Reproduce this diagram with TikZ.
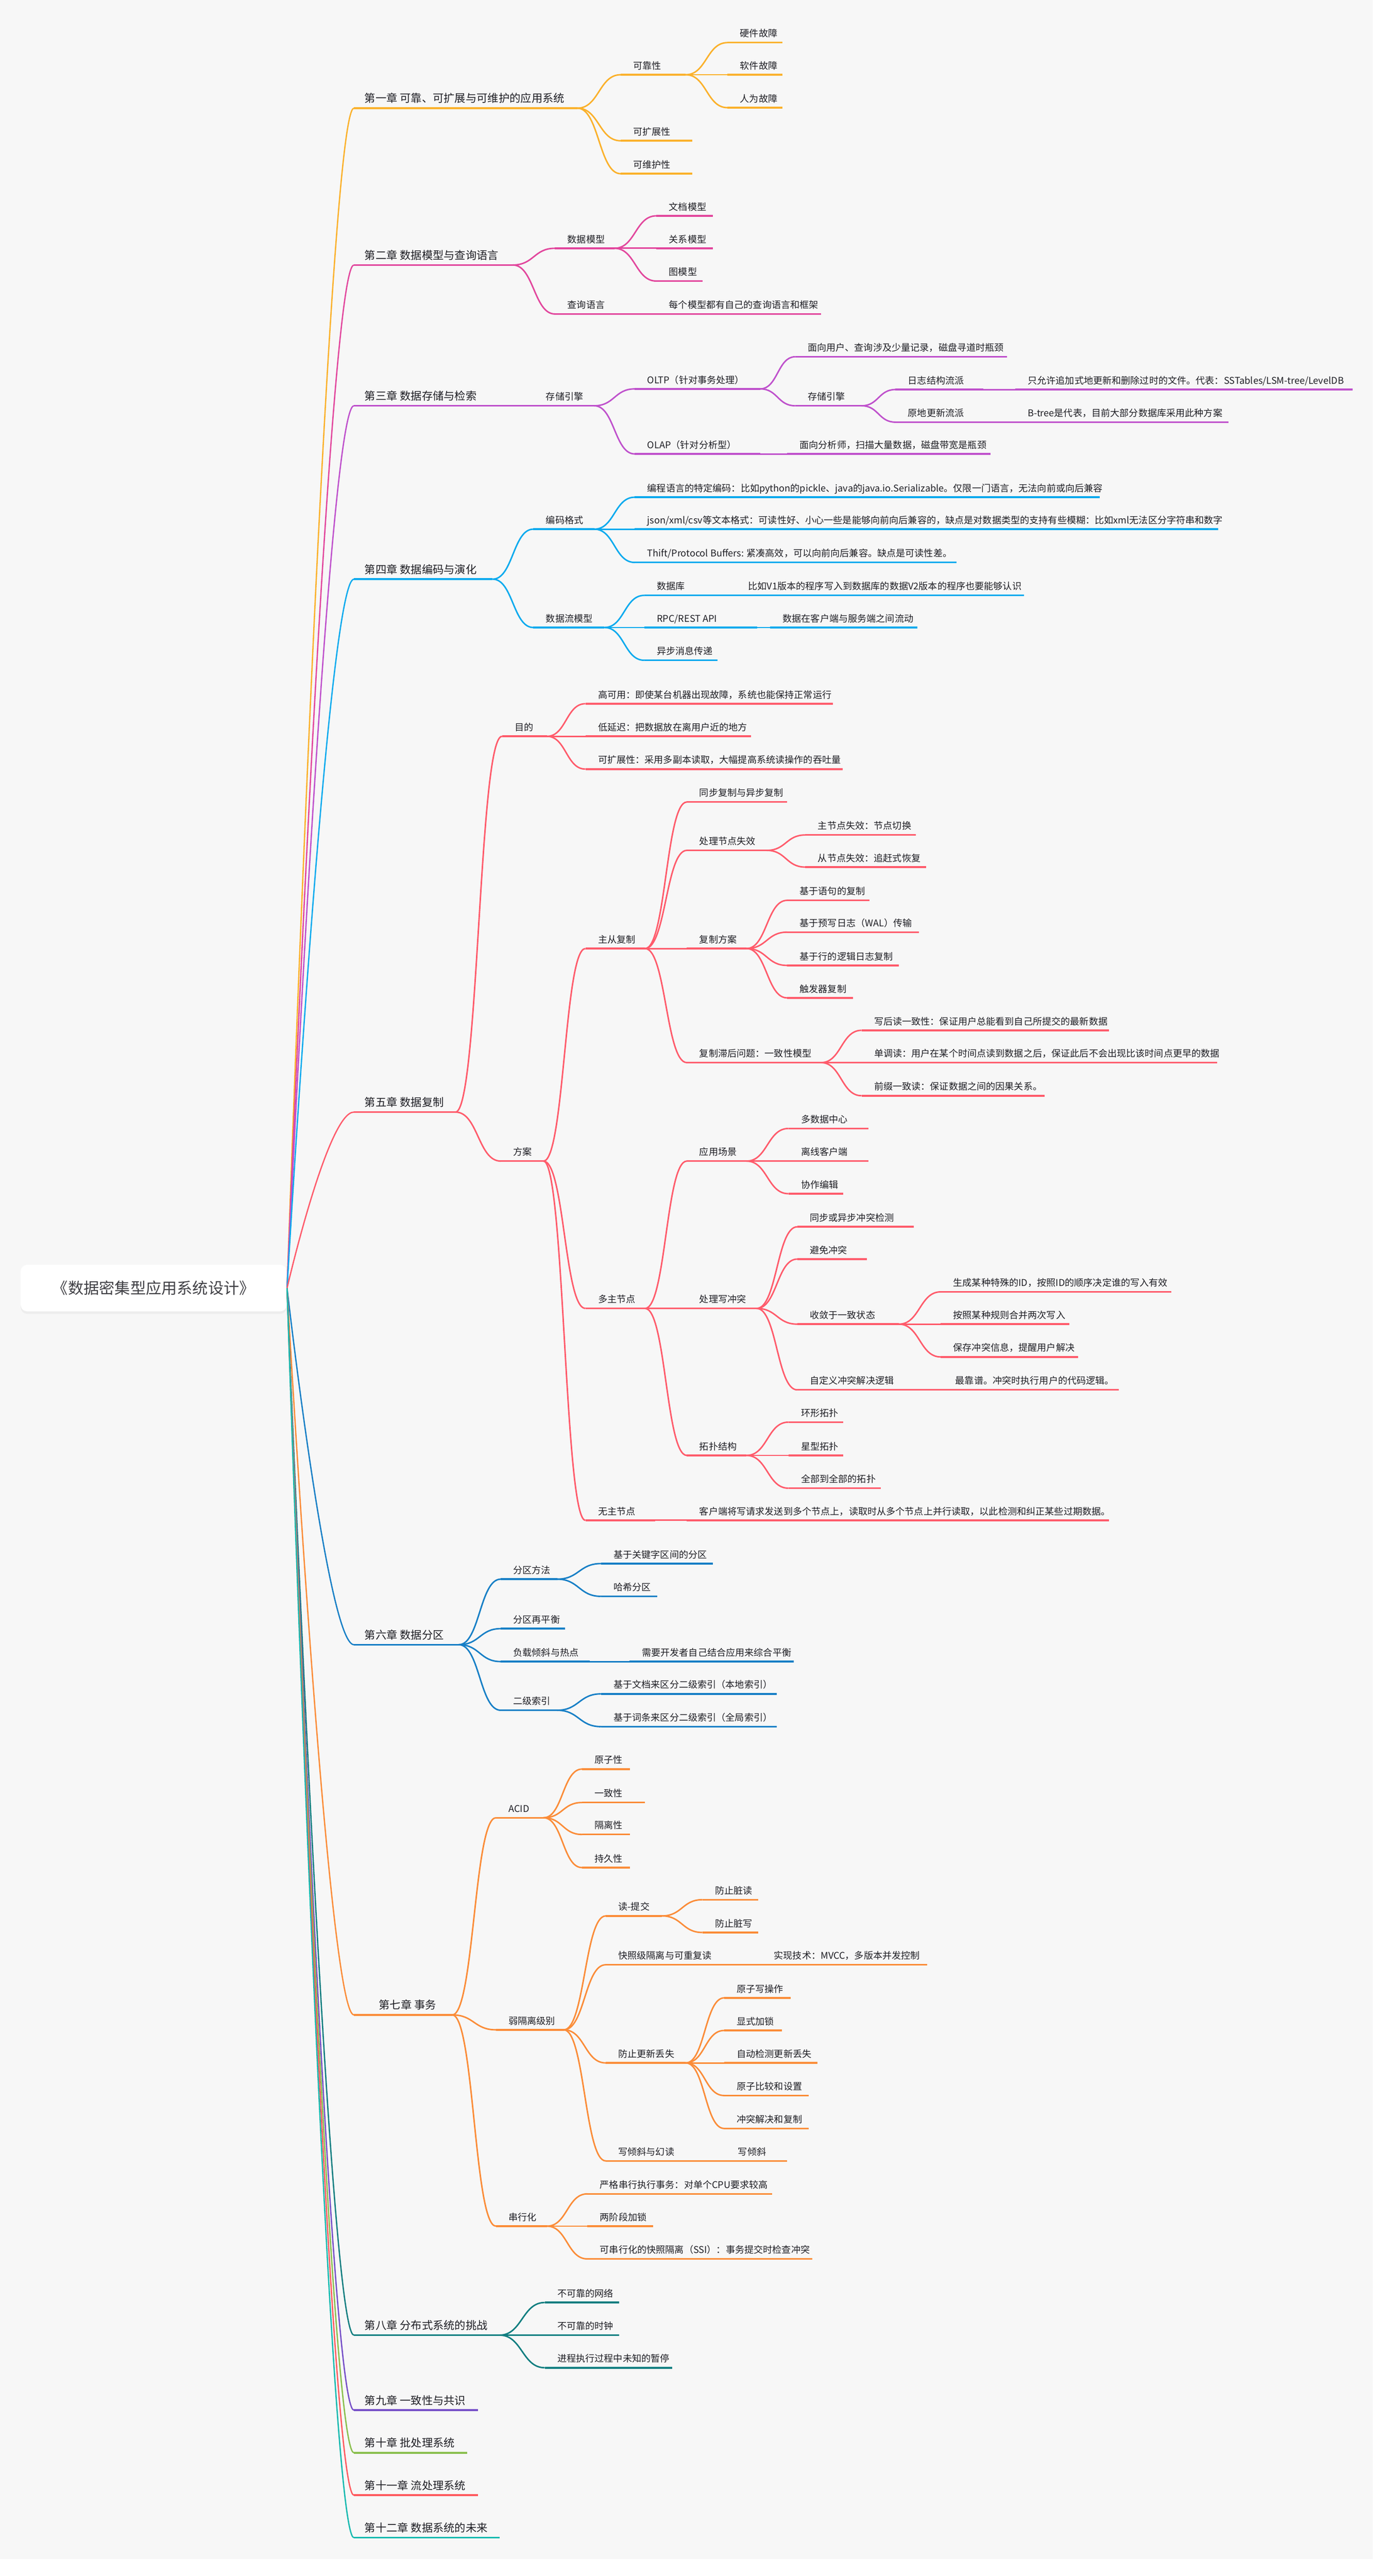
\documentclass[tikz,border=0pt]{standalone}
\usepackage{fontspec}
\setmainfont{Noto Sans CJK SC}
\usetikzlibrary{calc,shadows}

\definecolor{bgc}{HTML}{F7F7F7}
\definecolor{txt}{HTML}{1E1E24}
\definecolor{cA}{HTML}{FBB12B}
\definecolor{cB}{HTML}{E2479D}
\definecolor{cC}{HTML}{BF51CC}
\definecolor{cD}{HTML}{0BAAEE}
\definecolor{cE}{HTML}{FF5B6B}
\definecolor{cF}{HTML}{177FC6}
\definecolor{cG}{HTML}{FB8C38}
\definecolor{cH}{HTML}{127E80}
\definecolor{cI}{HTML}{7650C8}
\definecolor{cJ}{HTML}{8ABF4E}
\definecolor{cK}{HTML}{FF5A5F}
\definecolor{cL}{HTML}{18BAB0}

\tikzset{
  root/.style={fill=white, rounded corners=4pt, minimum width=162.4pt, minimum height=28.4pt,
    inner sep=0pt, font=\fontsize{9.5}{11}\selectfont, text=txt!85!white,
    drop shadow={shadow xshift=0pt, shadow yshift=-1.5pt, opacity=0.08}},
  chap/.style={anchor=south west, inner xsep=6.3pt, inner ysep=2pt, text depth=1.3pt,
    font=\fontsize{6.7}{8}\selectfont, text=txt},
  tp/.style={anchor=south west, inner xsep=7.5pt, inner ysep=2pt, text depth=1.2pt,
    font=\fontsize{5.7}{7}\selectfont, text=txt},
  ul/.style={line width=1.1pt},
  br/.style={line width=0.9pt, to path={let \p1=(\tikztostart), \p2=(\tikztotarget) in
    .. controls ({(\x1+\x2)/2},\y1) and ({(\x1+\x2)/2},\y2) .. (\p2)}},
  rootbr/.style={line width=0.8pt, to path={.. controls (\tikztostart) and ([xshift=-16pt]\tikztotarget) .. (\tikztotarget)}},
}

\begin{document}
\begin{tikzpicture}[x=1pt,y=-1pt]
\fill[white] (0,0) rectangle (843.2,1571.9);
\fill[bgc] (0,0) rectangle (837.8,1561.4);
\useasboundingbox (0,0) rectangle (843.2,1571.9);

\node[root] (root) at (93.8,786) {《数据密集型应用系统设计》};

% chapter 1
\begin{scope}[color=cA]
\node[chap] (ch1) at (216,66.0) {第一章 可靠、可扩展与可维护的应用系统};
\draw[ul] (ch1.south west) -- (352.4,66.0) coordinate (ch1-e);
\draw[rootbr] (root.east) to (ch1.south west);
\foreach \nm/\xs/\xe/\yl/\lb in {
  a1/378.8/418.5/45.6/可靠性,
  a11/444/477.6/26.0/硬件故障,
  a12/444/477.6/45.6/软件故障,
  a13/444/477.6/65.7/人为故障,
  a2/378.8/422.6/85.9/可扩展性,
  a3/378.8/422.6/106.0/可维护性}
{
  \node[tp] (\nm) at (\xs,\yl) {\lb};
  \draw[ul] (\nm.south west) -- (\xe,\yl) coordinate (\nm-e);
}
\foreach \pa/\ki in {ch1/a1, a1/a11, a1/a12, a1/a13, ch1/a2, ch1/a3}
  \draw[br] (\pa-e) to (\ki.south west);
\end{scope}

% chapter 2
\begin{scope}[color=cB]
\node[chap] (ch2) at (216,161.7) {第二章 数据模型与查询语言};
\draw[ul] (ch2.south west) -- (313,161.7) coordinate (ch2-e);
\draw[rootbr] (root.east) to (ch2.south west);
\foreach \nm/\xs/\xe/\yl/\lb in {
  b1/338.7/375/151.5/数据模型,
  b11/400.6/435/131.7/文档模型,
  b12/400.6/435/151.5/关系模型,
  b13/400.6/428.8/171.5/图模型,
  b2/338.7/380/191.6/查询语言,
  b21/400.6/501.1/191.6/每个模型都有自己的查询语言和框架}
{
  \node[tp] (\nm) at (\xs,\yl) {\lb};
  \draw[ul] (\nm.south west) -- (\xe,\yl) coordinate (\nm-e);
}
\foreach \pa/\ki in {ch2/b1, b1/b11, b1/b12, b1/b13, ch2/b2, b2/b21}
  \draw[br] (\pa-e) to (\ki.south west);
\end{scope}

% chapter 3
\begin{scope}[color=cC]
\node[chap] (ch3) at (216,247.6) {第三章 数据存储与检索};
\draw[ul] (ch3.south west) -- (297.9,247.6) coordinate (ch3-e);
\draw[rootbr] (root.east) to (ch3.south west);
\foreach \nm/\xs/\xe/\yl/\lb in {
  c1/325.5/362.7/247.6/存储引擎,
  c11/387.4/464/237.3/OLTP（针对事务处理）,
  c111/485.3/614.7/217.7/面向用户、查询涉及少量记录，磁盘寻道时瓶颈,
  c112/485.3/525.9/247.6/存储引擎,
  c1121/546.5/600/237.7/日志结构流派,
  c11211/619.6/825.4/237.7/{只允许追加式地更新和删除过时的文件。代表：SSTables/LSM-tree/LevelDB},
  c1122/546.5/600/257.6/原地更新流派,
  c11221/619.6/749.8/257.6/B-tree是代表，目前大部分数据库采用此种方案,
  c12/387.4/464/277.0/OLAP（针对分析型）,
  c121/480.4/604.4/277.0/面向分析师，扫描大量数据，磁盘带宽是瓶颈}
{
  \node[tp] (\nm) at (\xs,\yl) {\lb};
  \draw[ul] (\nm.south west) -- (\xe,\yl) coordinate (\nm-e);
}
\foreach \pa/\ki in {ch3/c1, c1/c11, c11/c111, c11/c112, c112/c1121, c1121/c11211,
  c112/c1122, c1122/c11221, c1/c12, c12/c121}
  \draw[br] (\pa-e) to (\ki.south west);
\end{scope}

% chapter 4
\begin{scope}[color=cD]
\node[chap] (ch4) at (216,353.4) {第四章 数据编码与演化};
\draw[ul] (ch4.south west) -- (300.7,353.4) coordinate (ch4-e);
\draw[rootbr] (root.east) to (ch4.south west);
\foreach \nm/\xs/\xe/\yl/\lb in {
  d1/325.5/362.7/322.9/编码格式,
  d11/387.4/671.3/303.4/编程语言的特定编码：比如python的pickle、java的java.io.Serializable。仅限一门语言，无法向前或向后兼容,
  d12/387.4/743.6/322.9/{json/xml/csv等文本格式：可读性好、小心一些是能够向前向后兼容的，缺点是对数据类型的支持有些模糊：比如xml无法区分字符串和数字},
  d13/387.4/583.7/343.2/{Thift/Protocol Buffers: 紧凑高效，可以向前向后兼容。缺点是可读性差。},
  d2/325.5/368.9/382.9/数据流模型,
  d21/393.2/440/363.3/数据库,
  d211/449/625/363.3/比如V1版本的程序写入到数据库的数据V2版本的程序也要能够认识,
  d22/393.2/462/382.9/{RPC/REST API},
  d221/470/559.8/382.9/数据在客户端与服务端之间流动,
  d23/393.2/437.9/402.9/异步消息传递}
{
  \node[tp] (\nm) at (\xs,\yl) {\lb};
  \draw[ul] (\nm.south west) -- (\xe,\yl) coordinate (\nm-e);
}
\foreach \pa/\ki in {ch4/d1, d1/d11, d1/d12, d1/d13, ch4/d2, d2/d21, d21/d211,
  d2/d22, d22/d221, d2/d23}
  \draw[br] (\pa-e) to (\ki.south west);
\end{scope}

% chapter 5
\begin{scope}[color=cE]
\node[chap] (ch5) at (216,678.6) {第五章 数据复制};
\draw[ul] (ch5.south west) -- (278,678.6) coordinate (ch5-e);
\draw[rootbr] (root.east) to (ch5.south west);
\foreach \nm/\xs/\xe/\yl/\lb in {
  e1/306.4/333.8/449.3/目的,
  e11/357.3/508.5/429.4/高可用：即使某台机器出现故障，系统也能保持正常运行,
  e12/357.3/458.5/449.3/低延迟：把数据放在离用户近的地方,
  e13/357.3/514.3/469.3/可扩展性：采用多副本读取，大幅提高系统读操作的吞吐量,
  e2/305.6/331.7/708.5/方案,
  e21/357.3/393.7/578.8/主从复制,
  e211/419.2/480.4/489.4/同步复制与异步复制,
  e212/419.2/468/518.9/处理节点失效,
  e2121/491.5/559/509.5/主节点失效：节点切换,
  e2122/491.5/565.1/529.1/从节点失效：追赶式恢复,
  e213/419.2/455.6/578.8/复制方案,
  e2131/480.4/530.8/549.4/基于语句的复制,
  e2132/480.4/561/568.8/基于预写日志（WAL）传输,
  e2133/480.4/548.6/589.1/基于行的逻辑日志复制,
  e2134/480.4/520.5/608.9/触发器复制,
  e214/419.2/501.1/648.4/复制滞后问题：一致性模型,
  e2141/525.8/676.7/628.7/写后读一致性：保证用户总能看到自己所提交的最新数据,
  e2142/525.8/742.8/648.4/单调读：用户在某个时间点读到数据之后，保证此后不会出现比该时间点更早的数据,
  e2143/525.8/637.4/668.6/前缀一致读：保证数据之间的因果关系。,
  e22/357.3/393.7/798.4/多主节点,
  e221/419.2/455.6/708.5/应用场景,
  e2211/481.2/530/688.6/多数据中心,
  e2212/481.2/530/708.5/离线客户端,
  e2213/481.2/514.7/728.4/协作编辑,
  e222/419.2/461.8/798.4/处理写冲突,
  e2221/486.6/557.7/748.6/同步或异步冲突检测,
  e2222/486.6/529.2/768.3/避免冲突,
  e2223/486.6/548.6/808.0/收敛于一致状态,
  e22231/574.1/715/788.3/生成某种特殊的ID，按照ID的顺序决定谁的写入有效,
  e22232/574.1/652.7/808.0/按照某种规则合并两次写入,
  e22233/574.1/658/828.0/保存冲突信息，提醒用户解决,
  e2224/486.6/560/848.1/自定义冲突解决逻辑,
  e22241/575.4/682.9/848.1/最靠谱。冲突时执行用户的代码逻辑。,
  e223/419.2/455.6/888.1/拓扑结构,
  e2231/481.2/514.7/867.8/环形拓扑,
  e2232/481.2/514.7/888.1/星型拓扑,
  e2233/481.2/537.5/908.1/全部到全部的拓扑,
  e23/357.3/400/927.7/无主节点,
  e231/419.2/676.7/927.7/客户端将写请求发送到多个节点上，读取时从多个节点上并行读取，以此检测和纠正某些过期数据。}
{
  \node[tp] (\nm) at (\xs,\yl) {\lb};
  \draw[ul] (\nm.south west) -- (\xe,\yl) coordinate (\nm-e);
}
\foreach \pa/\ki in {ch5/e1, e1/e11, e1/e12, e1/e13, ch5/e2,
  e2/e21, e21/e211, e21/e212, e212/e2121, e212/e2122,
  e21/e213, e213/e2131, e213/e2132, e213/e2133, e213/e2134,
  e21/e214, e214/e2141, e214/e2142, e214/e2143,
  e2/e22, e22/e221, e221/e2211, e221/e2212, e221/e2213,
  e22/e222, e222/e2221, e222/e2222, e222/e2223, e2223/e22231, e2223/e22232, e2223/e22233,
  e222/e2224, e2224/e22241,
  e22/e223, e223/e2231, e223/e2232, e223/e2233,
  e2/e23, e23/e231}
  \draw[br] (\pa-e) to (\ki.south west);
\end{scope}

% chapter 6
\begin{scope}[color=cF]
\node[chap] (ch6) at (216,1003.6) {第六章 数据分区};
\draw[ul] (ch6.south west) -- (280,1003.6) coordinate (ch6-e);
\draw[rootbr] (root.east) to (ch6.south west);
\foreach \nm/\xs/\xe/\yl/\lb in {
  f1/305.6/340/963.6/分区方法,
  f11/366.8/435/954.1/基于关键字区间的分区,
  f12/366.8/401.1/974.1/哈希分区,
  f2/305.6/345/993.8/分区再平衡,
  f3/305.6/360/1013.9/负载倾斜与热点,
  f31/384.1/484.6/1013.9/需要开发者自己结合应用来综合平衡,
  f4/305.6/340/1043.6/二级索引,
  f41/366.8/474.2/1033.6/基于文档来区分二级索引（本地索引）,
  f42/366.8/474.2/1053.6/基于词条来区分二级索引（全局索引）}
{
  \node[tp] (\nm) at (\xs,\yl) {\lb};
  \draw[ul] (\nm.south west) -- (\xe,\yl) coordinate (\nm-e);
}
\foreach \pa/\ki in {ch6/f1, f1/f11, f1/f12, ch6/f2, ch6/f3, f3/f31, ch6/f4, f4/f41, f4/f42}
  \draw[br] (\pa-e) to (\ki.south west);
\end{scope}

% chapter 7
\begin{scope}[color=cG]
\node[chap, inner xsep=15pt] (ch7) at (216,1229.5) {第七章 事务};
\draw[ul] (ch7.south west) -- (276,1229.5) coordinate (ch7-e);
\draw[rootbr] (root.east) to (ch7.south west);
\foreach \nm/\xs/\xe/\yl/\lb in {
  g1/302.7/331.7/1109.2/ACID,
  g11/355.2/384.6/1079.5/原子性,
  g12/355.2/393.7/1099.9/一致性,
  g13/355.2/384.6/1119.4/隔离性,
  g14/355.2/384.6/1139.6/持久性,
  g2/302.7/344.1/1238.6/弱隔离级别,
  g21/369.7/404/1169.1/读-提交,
  g211/428.7/462.7/1159.2/防止脏读,
  g212/428.7/462.7/1179.2/防止脏写,
  g22/369.7/445/1198.9/快照级隔离与可重复读,
  g221/464.7/566/1198.9/实现技术：MVCC，多版本并发控制,
  g23/369.7/418.5/1258.8/防止更新丢失,
  g231/442/482.5/1219.1/原子写操作,
  g232/442/477.1/1239.0/显式加锁,
  g233/442/499/1258.8/自动检测更新丢失,
  g234/442/493.7/1278.7/原子比较和设置,
  g235/442/493.7/1298.8/冲突解决和复制,
  g24/369.7/430/1318.6/写倾斜与幻读,
  g241/442.8/480.4/1318.6/写倾斜,
  g3/302.7/333.8/1358.4/串行化,
  g31/358.5/471.4/1338.7/严格串行执行事务：对单个CPU要求较高,
  g32/358.5/398.6/1358.4/两阶段加锁,
  g33/358.5/495.7/1378.4/可串行化的快照隔离（SSI）：事务提交时检查冲突}
{
  \node[tp] (\nm) at (\xs,\yl) {\lb};
  \draw[ul] (\nm.south west) -- (\xe,\yl) coordinate (\nm-e);
}
\foreach \pa/\ki in {ch7/g1, g1/g11, g1/g12, g1/g13, g1/g14,
  ch7/g2, g2/g21, g21/g211, g21/g212, g2/g22, g22/g221,
  g2/g23, g23/g231, g23/g232, g23/g233, g23/g234, g23/g235, g2/g24, g24/g241,
  ch7/g3, g3/g31, g3/g32, g3/g33}
  \draw[br] (\pa-e) to (\ki.south west);
\end{scope}

% chapter 8
\begin{scope}[color=cH]
\node[chap] (ch8) at (216,1424.9) {第八章 分布式系统的挑战};
\draw[ul] (ch8.south west) -- (304.9,1424.9) coordinate (ch8-e);
\draw[rootbr] (root.east) to (ch8.south west);
\foreach \nm/\xs/\xe/\yl/\lb in {
  h1/332.5/378/1405.0/不可靠的网络,
  h2/332.5/378/1424.9/不可靠的时钟,
  h3/332.5/410.2/1444.8/进程执行过程中未知的暂停}
{
  \node[tp] (\nm) at (\xs,\yl) {\lb};
  \draw[ul] (\nm.south west) -- (\xe,\yl) coordinate (\nm-e);
}
\foreach \pa/\ki in {ch8/h1, ch8/h2, ch8/h3}
  \draw[br] (\pa-e) to (\ki.south west);
\end{scope}

% chapters 9 - 12
\foreach \nm/\col/\xe/\yl/\lb in {
  ch9/cI/291.7/1470.7/第九章 一致性与共识,
  ch10/cJ/285/1496.7/第十章 批处理系统,
  ch11/cK/291.7/1522.6/第十一章 流处理系统,
  ch12/cL/304.9/1548.5/第十二章 数据系统的未来}
{
  \begin{scope}[color=\col]
  \node[chap] (\nm) at (216,\yl) {\lb};
  \draw[ul] (\nm.south west) -- (\xe,\yl);
  \draw[rootbr] (root.east) to (\nm.south west);
  \end{scope}
}

\end{tikzpicture}
\end{document}
